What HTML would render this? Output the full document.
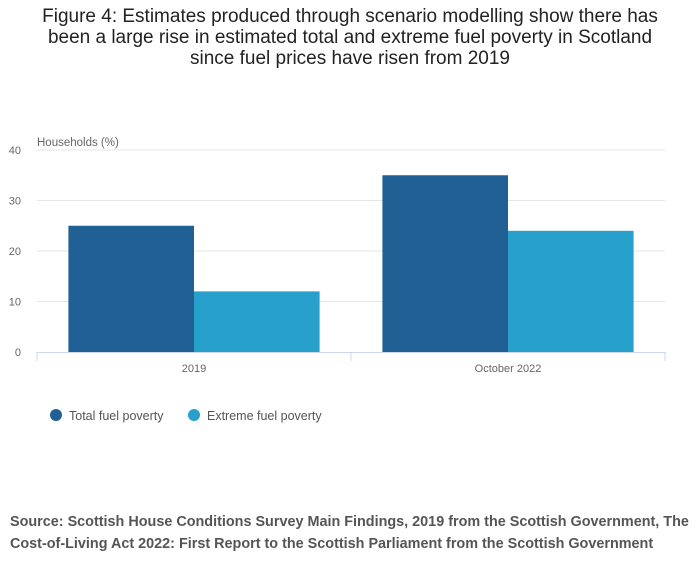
<!DOCTYPE html>
<html><head><meta charset="utf-8"><style>
body{margin:0;width:700px;height:574px;background:#fff;font-family:"Liberation Sans",sans-serif;overflow:hidden}
#title{position:absolute;top:6px;left:30px;width:640px;text-align:center;font-size:19px;line-height:21px;color:#222}
#src{position:absolute;left:10px;top:511px;width:690px;font-size:14.4px;font-weight:bold;line-height:22px;color:#555}
svg{position:absolute;left:0;top:0}
</style></head><body>
<div id="title">Figure 4: Estimates produced through scenario modelling show there has been a large rise in estimated total and extreme fuel poverty in Scotland since fuel prices have risen from 2019</div>
<svg id="chart" width="700" height="574"></svg>
<div id="src">Source: Scottish House Conditions Survey Main Findings, 2019 from the Scottish Government, The Cost-of-Living Act 2022: First Report to the Scottish Parliament from the Scottish Government</div>
<script>
const categories=["2019","October 2022"];
const totalValues=[25,35];
const extremeValues=[12,24];
const yTicks=[0,10,20,30,40];
const seriesNames=["Total fuel poverty","Extreme fuel poverty"];
const colors=["#206095","#27a0cc"];
const svg=document.getElementById('chart');
const NS="http://www.w3.org/2000/svg";
const x0=37,x1=665,yb=352,yt=150,ymax=40;
const y=v=>yb-(v/ymax)*(yb-yt);
function mk(t,a,txt){const e=document.createElementNS(NS,t);for(const k in a)e.setAttribute(k,a[k]);if(txt!=null)e.textContent=txt;svg.appendChild(e);return e;}
yTicks.forEach(v=>{
 if(v>0){const g=mk('line',{x1:x0,x2:x1,y1:y(v),y2:y(v),stroke:'#e6e6e6'});}
 const t=mk('text',{x:21,y:y(v)+4,'text-anchor':'end','font-size':11,fill:'#666'},v);
 
 
});
const yl=mk('text',{x:x0,y:146,'font-size':11.5,fill:'#666'},'Households (%)');


const band=(x1-x0)/categories.length,bw=band*0.4,pad=band*0.1;
categories.forEach((c,i)=>{
 const bx=x0+i*band+pad;
 [totalValues,extremeValues].forEach((s,j)=>{
  const r=mk('rect',{x:bx+j*bw,y:y(s[i]),width:bw,height:yb-y(s[i]),fill:colors[j]});
  
  
 });
 const t=mk('text',{x:x0+i*band+band/2,y:372,'text-anchor':'middle','font-size':11,fill:'#666'},c);
 
 
 const tk=mk('line',{x1:x0+i*band,x2:x0+i*band,y1:yb,y2:yb+9,stroke:'#ccd6eb'});
 
 
});
const tk2=mk('line',{x1:x1,x2:x1,y1:yb,y2:yb+9,stroke:'#ccd6eb'});


const ax=mk('line',{x1:x0,x2:x1,y1:yb+0.5,y2:yb+0.5,stroke:'#ccd6eb'});


const lx=[56,194];
seriesNames.forEach((n,j)=>{
 const c=mk('circle',{cx:lx[j],cy:415,r:6,fill:colors[j]});
 
 
 const t=mk('text',{x:lx[j]+13,y:420,'font-size':12.5,fill:'#555'},n);
 
 
});
</script>
</body></html>
